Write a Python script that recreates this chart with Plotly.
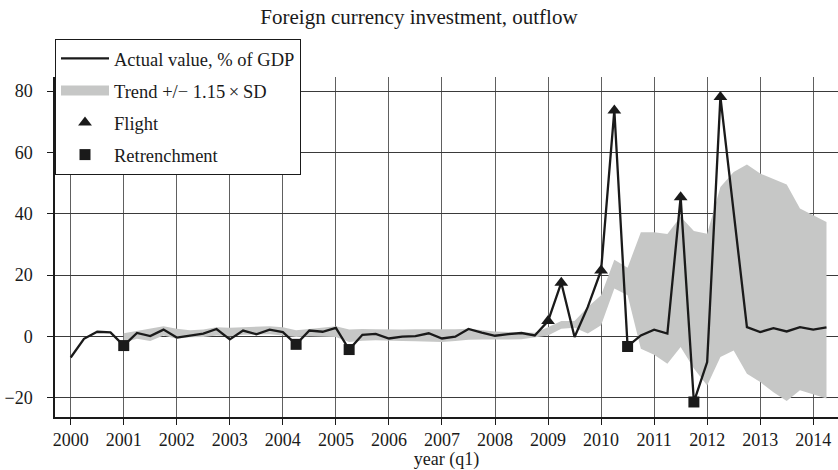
import plotly.graph_objects as go

# Quarterly observations, 2000q1 .. 2014q2
years_q = [2000 + i * 0.25 for i in range(58)]

actual = [
    -6.9, -0.8, 1.5, 1.3,      # 2000
    -3.0, 1.1, 0.1, 2.2,       # 2001
    -0.4, 0.2, 0.9, 2.4,       # 2002
    -1.0, 1.9, 0.7, 2.2,       # 2003
    1.4, -2.6, 1.9, 1.5,       # 2004
    2.8, -4.3, 0.5, 0.8,       # 2005
    -0.7, -0.1, 0.1, 1.0,      # 2006
    -0.7, -0.1, 2.4, 1.2,      # 2007
    0.2, 0.7, 1.1, 0.3,        # 2008
    5.0, 17.5, -0.2, 9.6,      # 2009
    21.5, 73.7, -3.3, 0.3,     # 2010
    2.2, 0.9, 45.4, -21.4,     # 2011
    -8.4, 78.1, 40.6, 3.0,     # 2012
    1.4, 2.7, 1.6, 3.0,        # 2013
    2.2, 2.9,                  # 2014
]

# Trend band, 2001q1 .. 2014q2
band_years = years_q[4:]
band_upper = [
    1.0, 1.7, 2.5, 3.3,
    2.5, 2.0, 2.2, 3.0,
    2.8, 3.0, 3.2, 3.3,
    3.0, 2.0, 2.4, 2.8,
    3.3, 2.2, 2.4, 2.3,
    2.2, 2.2, 2.3, 2.3,
    2.2, 2.3, 2.5, 2.0,
    1.6, 1.4, 1.2, 1.2,
    3.0, 5.0, 5.0, 9.6,
    13.4, 25.0, 22.4, 34.0,
    34.0, 33.4, 39.0, 34.4,
    33.5, 48.7, 53.6, 56.1,
    53.1, 51.4, 49.5, 41.7,
    39.5, 37.3,
]
band_lower = [
    -2.0, -0.8, -1.5, 0.3,
    -0.8, -0.3, -0.2, 0.3,
    0.0, 0.5, 0.6, 0.7,
    0.3, -0.2, 0.0, 0.0,
    -0.2, -1.8, -1.4, -1.3,
    -1.3, -1.5, -1.6, -1.7,
    -1.8, -1.5, -1.1, -1.0,
    -1.1, -1.0, -0.9, -0.2,
    0.3, 2.5, 2.8, 0.9,
    3.6, 15.6, 13.4, -4.0,
    -6.0, -8.9, -3.5, -10.5,
    -16.0, -6.7, -4.6, -12.2,
    -14.9, -18.2, -21.1, -17.6,
    -19.0, -20.3,
]

flight_idx = [36, 37, 40, 41, 46, 49]
retrench_idx = [4, 17, 21, 42, 47]

x_ticks = list(range(2000, 2015))
y_ticks = [-20, 0, 20, 40, 60, 80]
y_ticktext = ["\u221220", "0", "20", "40", "60", "80"]

INK = "#1a1a1a"
BAND = "#c6c7c6"
FONT = "Liberation Serif"

fig = go.Figure()

fig.add_trace(go.Scatter(x=band_years, y=band_lower, mode="lines",
                         line=dict(width=0, color=BAND), showlegend=False,
                         hoverinfo="skip"))
fig.add_trace(go.Scatter(x=band_years, y=band_upper, mode="lines",
                         line=dict(width=0, color=BAND), fill="tonexty",
                         fillcolor=BAND, showlegend=False, hoverinfo="skip"))

fig.add_trace(go.Scatter(x=years_q, y=actual, mode="lines",
                         line=dict(color=INK, width=2.3),
                         name="Actual value, % of GDP",
                         legendgroup="a", legendrank=1))

# legend-only entry for the band
fig.add_trace(go.Scatter(x=[None], y=[None], mode="lines",
                         line=dict(color=BAND, width=16),
                         name="Trend +/\u2212 1.15\u2009\u00d7\u2009SD",
                         legendgroup="b", legendrank=2))

fig.add_trace(go.Scatter(x=[years_q[i] for i in flight_idx],
                         y=[actual[i] for i in flight_idx], mode="markers",
                         marker=dict(symbol="triangle-up", size=12, color=INK),
                         name="Flight", legendgroup="c", legendrank=3))
fig.add_trace(go.Scatter(x=[years_q[i] for i in retrench_idx],
                         y=[actual[i] for i in retrench_idx], mode="markers",
                         marker=dict(symbol="square", size=11, color=INK),
                         name="Retrenchment", legendgroup="d", legendrank=4))

fig.update_layout(
    width=838, height=470,
    margin=dict(l=55, r=0, t=77, b=53),
    paper_bgcolor="white", plot_bgcolor="white",
    font=dict(family=FONT, size=18, color=INK),
    title=dict(text="Foreign currency investment, outflow",
               x=0.5, xanchor="center", xref="container",
               y=1 - 17 / 470, yref="container", yanchor="middle",
               font=dict(family=FONT, size=21, color=INK)),
    showlegend=True,
    legend=dict(x=0, xanchor="left", y=1.112, yanchor="top",
                bgcolor="white", bordercolor=INK, borderwidth=1,
                itemwidth=48, tracegroupgap=5, traceorder="grouped",
                font=dict(family=FONT, size=18.5, color=INK)),
    xaxis=dict(range=[1999.704, 2014.467], tickvals=x_ticks,
               ticktext=[str(v) for v in x_ticks],
               showgrid=True, gridcolor="#606060", gridwidth=1.1,
               showline=True, linecolor=INK, linewidth=1.5,
               ticks="outside", ticklen=6, tickcolor=INK, tickwidth=1.2,
               zeroline=False,
               title=dict(text="year (q1)", font=dict(family=FONT, size=18), standoff=4)),
    yaxis=dict(range=[-26.3, 84.6], tickvals=y_ticks, ticktext=y_ticktext,
               showgrid=True, gridcolor="#3a3a3a", gridwidth=1.1,
               showline=True, linecolor=INK, linewidth=1.5,
               ticks="outside", ticklen=6, tickcolor=INK, tickwidth=1.2,
               ticklabelstandoff=11,
               zeroline=False),
)

fig.write_html("out.html",
               config={"displayModeBar": False},
               post_script="document.body.style.margin='0px';document.body.style.padding='0px';")
